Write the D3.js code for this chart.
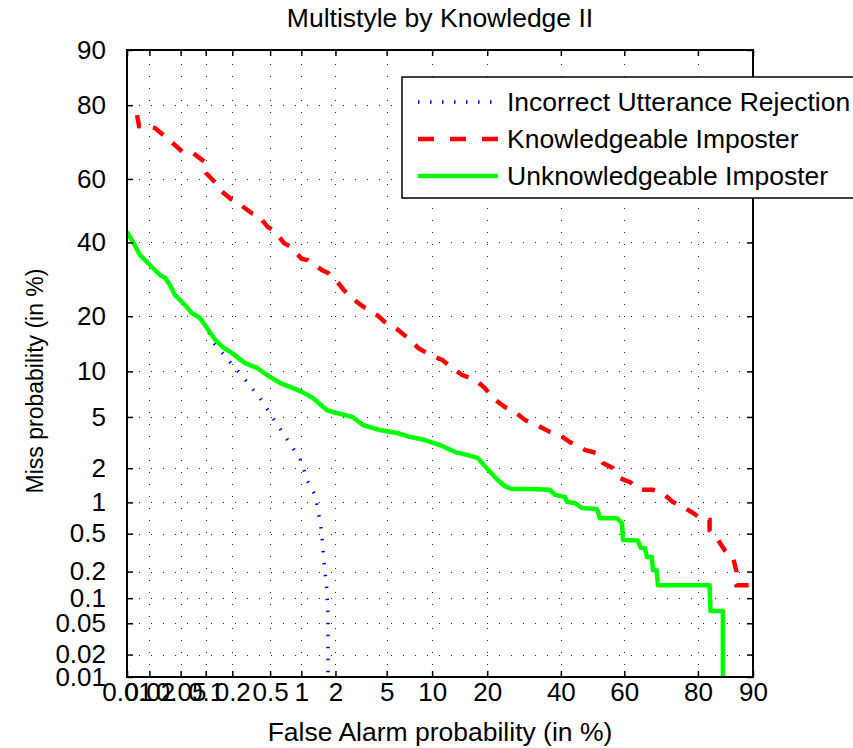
<!DOCTYPE html>
<html>
<head>
<meta charset="utf-8">
<script src="https://cdn.jsdelivr.net/npm/d3@7"></script>
<style>
  body { margin: 0; background: #fff; }
  svg { display: block; }
  text { font-family: Arial, "Liberation Sans", Helvetica, sans-serif; fill: #000; }
</style>
</head>
<body>
<svg id="chart" width="853" height="748"></svg>
<script>
// Tick positions (in %) shared by both DET axes
const tickValues = [0.01, 0.02, 0.05, 0.1, 0.2, 0.5, 1, 2, 5, 10, 20, 40, 60, 80, 90];
const tickLabels = ["0.01", "0.02", "0.05", "0.1", "0.2", "0.5", "1", "2", "5", "10", "20", "40", "60", "80", "90"];

const seriesNames = ["Incorrect Utterance Rejection", "Knowledgeable Imposter", "Unknowledgeable Imposter"];

// Incorrect Utterance Rejection: false alarm % / miss %
const rejectionFA = [0.01, 0.0121, 0.0150, 0.0175, 0.0217, 0.0275, 0.0319, 0.0367, 0.0424, 0.0564, 0.0687, 0.0855, 0.1035,
  0.121, 0.188, 0.262, 0.394, 0.533, 0.670, 0.836, 1.01, 1.125, 1.33, 1.415, 1.53, 1.56, 1.62, 1.69, 1.73, 1.73, 1.73];
const rejectionMiss = [43.3, 40.1, 36.2, 34.7, 32.6, 30.4, 29.6, 27.7, 25.1, 22.6, 20.7, 19.6, 17.5,
  14.8, 11.4, 9.24, 6.76, 4.91, 3.81, 2.92, 2.25, 1.58, 1.17, 0.85, 0.508, 0.357, 0.208, 0.124, 0.0595, 0.0231, 0.01];

// Knowledgeable Imposter
const knowFA = [0.0137, 0.0146, 0.0237, 0.0328, 0.040, 0.053, 0.071, 0.098, 0.101, 0.131, 0.146, 0.194, 0.232, 0.325,
  0.376, 0.475, 0.558, 0.684, 0.80, 1.01, 1.15, 1.53, 1.73, 2.18, 2.35, 2.99, 3.45, 4.33, 4.86, 6.0, 7.0, 8.17, 9.7,
  11.5, 13.1, 14.9, 17.4, 19.5, 21.3, 24.2, 26.8, 29.5, 32.8, 36.7, 39.7, 42.8, 47.5, 51.4, 53.3, 56.4, 58.6, 61.8,
  64.7, 68.5, 71.8, 73.9, 76.9, 78.8, 81.1, 82.5, 82.5, 84.1, 85.4, 86.9, 87.5, 87.5, 90];
const knowMiss = [77.7, 75.0, 74.5, 72.1, 70.5, 68.0, 67.7, 65.1, 61.8, 58.7, 56.6, 53.7, 52.4, 49.2,
  48.6, 44.8, 43.6, 39.8, 38.6, 35.0, 34.7, 31.8, 31.0, 27.7, 26.3, 23.3, 21.9, 20.1, 18.7, 17.1, 15.5, 13.7, 12.5,
  11.7, 10.5, 9.5, 8.86, 7.85, 6.76, 5.86, 5.42, 4.74, 4.37, 3.88, 3.67, 3.25, 2.82, 2.66, 2.21, 2.01, 1.65, 1.52,
  1.30, 1.30, 1.17, 1.01, 0.887, 0.80, 0.68, 0.68, 0.543, 0.44, 0.341, 0.287, 0.198, 0.141, 0.141];

// Unknowledgeable Imposter
const unknowFA = [0.01, 0.0121, 0.0150, 0.0175, 0.0217, 0.0275, 0.0319, 0.0367, 0.0424, 0.0564, 0.0687, 0.0855, 0.1035,
  0.128, 0.158, 0.199, 0.275, 0.367, 0.465, 0.625, 0.836, 1.01, 1.275, 1.69, 1.90, 2.78, 3.33, 4.47, 5.91, 7.22, 9.02,
  11.16, 13.6, 15.99, 18.0, 19.5, 21.1, 22.5, 24.2, 26.0, 30.85, 36.7, 38.2, 41.3, 41.9, 44.4, 46.6, 51.4, 52.3, 57.7,
  59.3, 59.6, 64.1, 65.0, 66.2, 66.8, 68.2, 68.5, 69.6, 69.9, 82.5, 82.7, 85.1, 85.1];
const unknowMiss = [43.3, 40.1, 36.2, 34.7, 32.6, 30.4, 29.6, 27.7, 25.1, 22.6, 20.7, 19.6, 17.5,
  15.2, 13.8, 12.8, 11.2, 10.5, 9.5, 8.49, 7.85, 7.42, 6.76, 5.59, 5.42, 4.98, 4.37, 4.01, 3.81, 3.56, 3.37,
  3.08, 2.71, 2.56, 2.42, 2.08, 1.79, 1.58, 1.40, 1.32, 1.32, 1.30, 1.17, 1.12, 1.01, 0.987, 0.887, 0.868, 0.71, 0.71,
  0.637, 0.432, 0.427, 0.357, 0.357, 0.287, 0.287, 0.208, 0.205, 0.141, 0.141, 0.0703, 0.0703, 0.01];

// Inverse of the standard normal CDF (Acklam's rational approximation)
function probit(p) {
  const a = [-3.969683028665376e+01, 2.209460984245205e+02, -2.759285104469687e+02, 1.383577518672690e+02, -3.066479806614716e+01, 2.506628277459239e+00];
  const b = [-5.447609879822406e+01, 1.615858368580409e+02, -1.556989798598866e+02, 6.680131188771972e+01, -1.328068155288572e+01];
  const c = [-7.784894002430293e-03, -3.223964580411365e-01, -2.400758277161838e+00, -2.549732539343734e+00, 4.374664141464968e+00, 2.938163982698783e+00];
  const d = [7.784695709041462e-03, 3.224671290700398e-01, 2.445134137142996e+00, 3.754408661907416e+00];
  const pl = 0.02425, ph = 1 - pl;
  let q, r;
  if (p < pl) {
    q = Math.sqrt(-2 * Math.log(p));
    return (((((c[0]*q+c[1])*q+c[2])*q+c[3])*q+c[4])*q+c[5]) / ((((d[0]*q+d[1])*q+d[2])*q+d[3])*q+1);
  }
  if (p > ph) {
    q = Math.sqrt(-2 * Math.log(1 - p));
    return -(((((c[0]*q+c[1])*q+c[2])*q+c[3])*q+c[4])*q+c[5]) / ((((d[0]*q+d[1])*q+d[2])*q+d[3])*q+1);
  }
  q = p - 0.5; r = q * q;
  return (((((a[0]*r+a[1])*r+a[2])*r+a[3])*r+a[4])*r+a[5])*q / (((((b[0]*r+b[1])*r+b[2])*r+b[3])*r+b[4])*r+1);
}
const dev = pct => probit(pct / 100);

const svg = d3.select("#chart");
const L = 127, R = 753, T = 50, B = 677;

const x = d3.scaleLinear().domain([dev(0.01), dev(90)]).range([L, R]);
const y = d3.scaleLinear().domain([dev(0.01), dev(90)]).range([B, T]);
const tickDev = tickValues.map(dev);
const fmt = (d, i) => tickLabels[i];

// Dotted grid
const grid = svg.append("g").attr("stroke", "#222").attr("stroke-width", 1).attr("stroke-dasharray", "1,11");
grid.selectAll("line.v").data(tickDev).join("line").attr("class", "v")
  .attr("x1", d => Math.round(x(d)) + 0.5).attr("x2", d => Math.round(x(d)) + 0.5).attr("y1", B).attr("y2", T);
grid.selectAll("line.h").data(tickDev).join("line").attr("class", "h")
  .attr("y1", d => Math.round(y(d)) + 0.5).attr("y2", d => Math.round(y(d)) + 0.5).attr("x1", L).attr("x2", R);

// Curves
svg.append("defs").append("clipPath").attr("id", "plotClip")
  .append("rect").attr("x", L).attr("y", T).attr("width", R - L).attr("height", B - T);

const line = d3.line().x(d => x(dev(d[0]))).y(d => y(dev(d[1])));
const curves = svg.append("g").attr("clip-path", "url(#plotClip)").attr("fill", "none");

curves.append("path").datum(d3.zip(rejectionFA, rejectionMiss)).attr("d", line)
  .attr("stroke", "#0000ff").attr("stroke-width", 3.5).attr("stroke-dasharray", "1.5,10.5");
curves.append("path").datum(d3.zip(knowFA, knowMiss)).attr("d", line)
  .attr("stroke", "#ff0000").attr("stroke-width", 4.5).attr("stroke-dasharray", "13,12");
curves.append("path").datum(d3.zip(unknowFA, unknowMiss)).attr("d", line)
  .attr("stroke", "#00ff00").attr("stroke-width", 4.5).attr("stroke-linejoin", "round");

// Axes with inward ticks on all four sides
const styleAxis = g => {
  g.select(".domain").remove();
  g.selectAll(".tick line").attr("stroke", "#000").attr("stroke-width", 1.5);
  g.selectAll(".tick text").attr("font-size", 26).attr("font-family", "Arial, 'Liberation Sans', sans-serif");
};
svg.append("g").attr("transform", `translate(0,${B})`)
  .call(d3.axisBottom(x).tickValues(tickDev).tickFormat(fmt).tickSizeInner(-6).tickSizeOuter(0).tickPadding(6))
  .call(styleAxis);
svg.append("g").attr("transform", `translate(${L},0)`)
  .call(d3.axisLeft(y).tickValues(tickDev).tickFormat(fmt).tickSizeInner(-6).tickSizeOuter(0).tickPadding(21))
  .call(styleAxis);
svg.append("g").attr("transform", `translate(0,${T})`)
  .call(d3.axisTop(x).tickValues(tickDev).tickFormat("").tickSizeInner(-6).tickSizeOuter(0))
  .call(styleAxis);
svg.append("g").attr("transform", `translate(${R},0)`)
  .call(d3.axisRight(y).tickValues(tickDev).tickFormat("").tickSizeInner(-6).tickSizeOuter(0))
  .call(styleAxis);

// Frame
svg.append("rect").attr("x", L).attr("y", T).attr("width", R - L).attr("height", B - T)
  .attr("fill", "none").attr("stroke", "#000").attr("stroke-width", 2);

// Title and axis labels
svg.append("text").attr("x", (L + R) / 2).attr("y", 27).attr("text-anchor", "middle")
  .attr("font-size", 26.5).text("Multistyle by Knowledge II");
svg.append("text").attr("x", (L + R) / 2).attr("y", 741).attr("text-anchor", "middle")
  .attr("font-size", 26.5).text("False Alarm probability (in %)");
svg.append("text").attr("transform", `translate(43,381) rotate(-90)`).attr("text-anchor", "middle")
  .attr("font-size", 23).text("Miss probability (in %)");

// Legend
const legend = svg.append("g");
legend.append("rect").attr("x", 402).attr("y", 77).attr("width", 480).attr("height", 121)
  .attr("fill", "#fff").attr("stroke", "#000").attr("stroke-width", 1.5);
const legendStyles = [
  { stroke: "#0000ff", width: 3.5, dash: "1.5,10.5" },
  { stroke: "#ff0000", width: 4.5, dash: "16,16" },
  { stroke: "#00ff00", width: 4.5, dash: null }
];
seriesNames.forEach((name, i) => {
  const cy = 102 + i * 37;
  legend.append("line").attr("x1", 418).attr("x2", 498).attr("y1", cy).attr("y2", cy)
    .attr("stroke", legendStyles[i].stroke).attr("stroke-width", legendStyles[i].width)
    .attr("stroke-dasharray", legendStyles[i].dash);
  legend.append("text").attr("x", 507).attr("y", cy).attr("dy", "0.35em")
    .attr("font-size", 26.5).text(name);
});
</script>
</body>
</html>
